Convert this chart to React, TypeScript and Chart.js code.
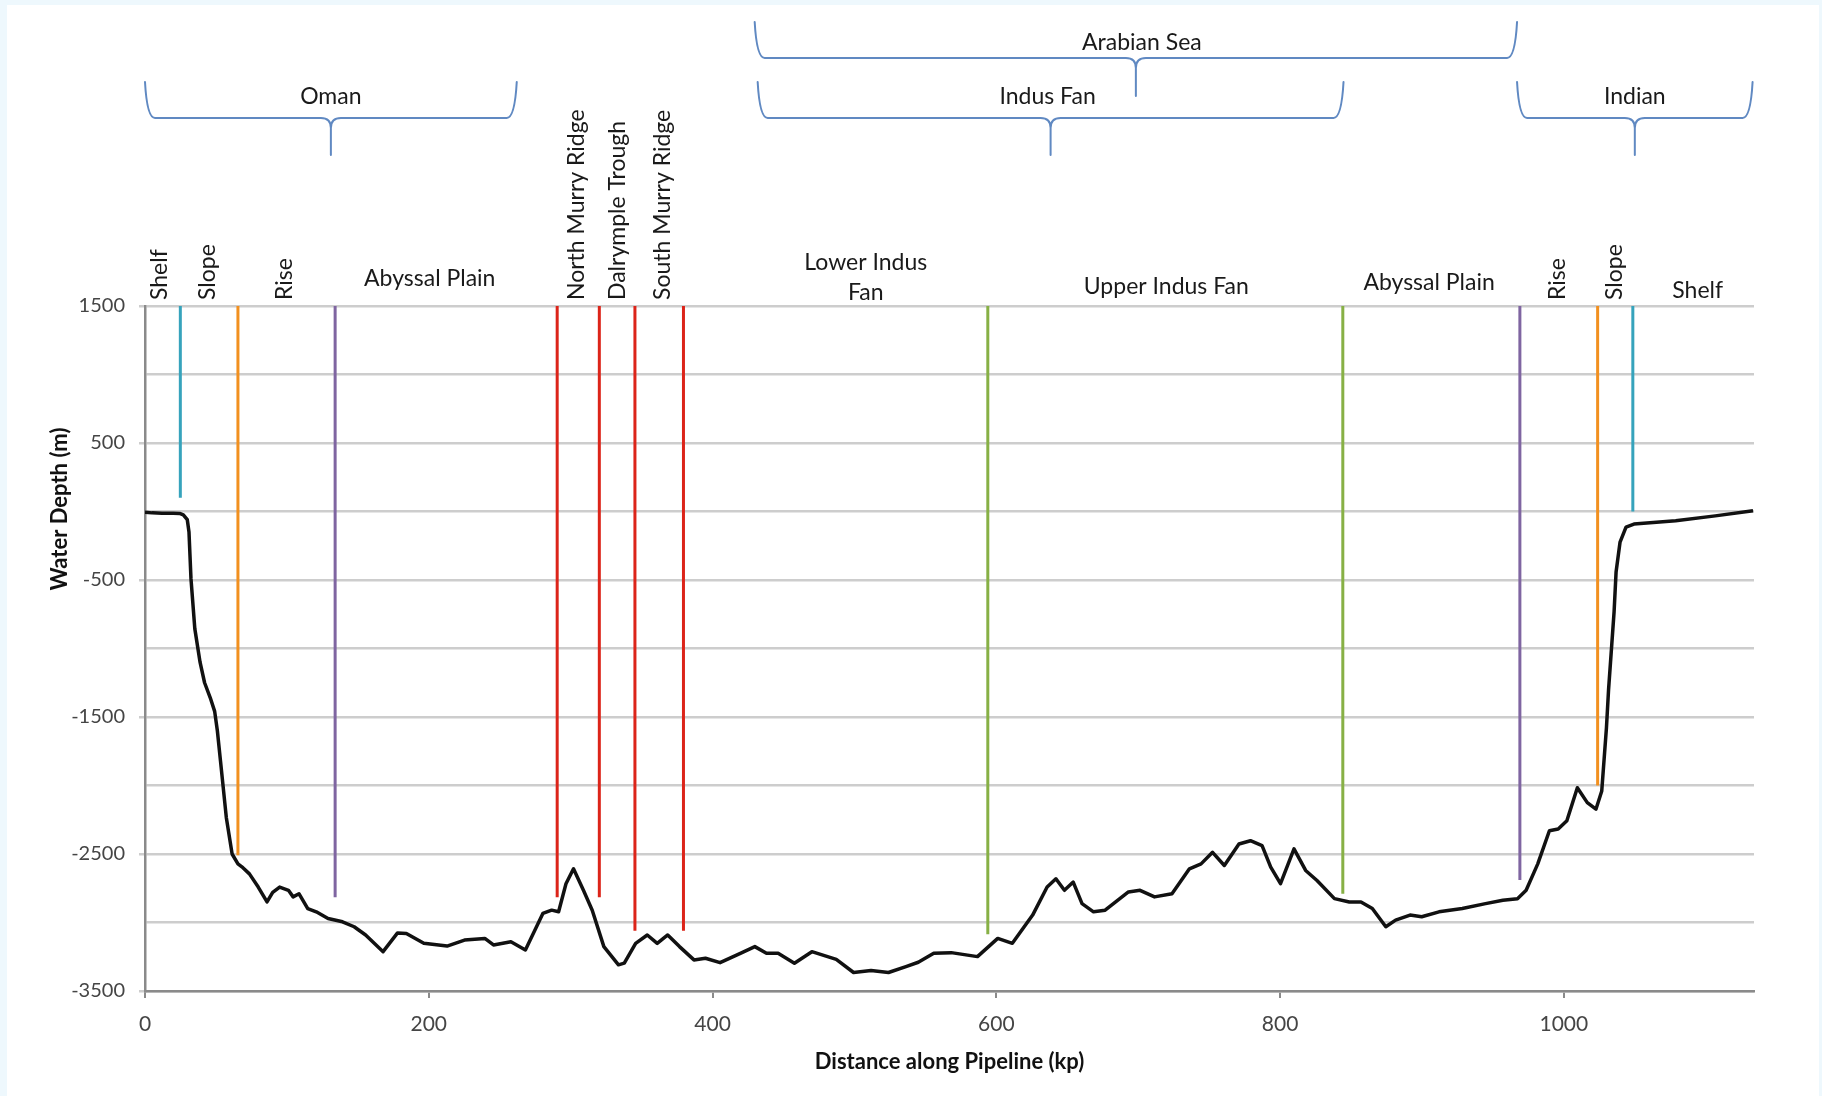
import React, { useEffect, useRef } from 'react';
import { Chart, registerables } from 'chart.js';

Chart.register(...registerables);

// ---------------- DATA ----------------
// Seabed profile: [distance along pipeline (kp), water depth (m)]
const profile: [number, number][] = [
  [0, -5], [5, -10], [12, -12], [20, -12], [24.4, -14], [27, -25], [29.8, -60], [31, -150],
  [32.4, -490], [35.1, -855], [38.8, -1100], [42, -1250], [46, -1360], [49.1, -1459], [51, -1600],
  [53.2, -1820], [57.3, -2233], [61.4, -2500], [65.5, -2572], [69, -2600], [73.6, -2645],
  [79.8, -2741], [86, -2850], [90, -2780], [94.9, -2741], [101.1, -2765], [104.4, -2813],
  [108.5, -2790], [114.7, -2898], [120.7, -2922], [129, -2971], [139.2, -2995], [147.4, -3031],
  [155.5, -3091], [167.8, -3213], [178, -3076], [184.2, -3080], [196.5, -3152], [212.9, -3172],
  [225.2, -3128], [239.5, -3116], [245.6, -3164], [257.9, -3140], [268.1, -3200], [280.4, -2934],
  [286.6, -2910], [291.5, -2922], [296.7, -2717], [302, -2608], [309, -2765], [315.2, -2910],
  [323.4, -3176], [333.7, -3309], [337.8, -3297], [345.8, -3152], [354, -3091], [361, -3152],
  [368.4, -3091], [376.7, -3176], [386.9, -3273], [395, -3261], [405.3, -3293], [419.6, -3225],
  [429.8, -3176], [438, -3225], [446.2, -3225], [457.7, -3297], [470, -3213], [487.2, -3269],
  [499.4, -3365], [511.7, -3350], [524, -3365], [536.3, -3322], [545, -3290], [555.9, -3225],
  [568.2, -3220], [586.7, -3249], [601, -3116], [611.3, -3152], [625.6, -2946], [635.8, -2741],
  [642, -2681], [648, -2765], [654.2, -2705], [660.4, -2862], [668.5, -2922], [676.7, -2910],
  [693.1, -2777], [701.3, -2765], [711.5, -2813], [723.8, -2790], [736.1, -2608], [744.3, -2572],
  [752.4, -2488], [760.7, -2584], [771, -2427], [779.1, -2403], [787.3, -2439], [793.4, -2596],
  [800.3, -2717], [809.8, -2463], [818, -2620], [826, -2693], [838.3, -2826], [848.8, -2850],
  [857, -2850], [865, -2898], [874.5, -3031], [881.4, -2983], [891.6, -2946], [899.8, -2958],
  [912, -2922], [928.4, -2898], [944.8, -2862], [957, -2838], [967.3, -2826], [973.4, -2765],
  [981.6, -2572], [989.8, -2330], [996, -2318], [1002.1, -2258], [1009.5, -2016], [1016.5, -2125],
  [1022.6, -2173], [1026.7, -2040], [1030, -1580], [1031.5, -1300], [1035.4, -731],
  [1036.8, -441], [1039.6, -223], [1043.8, -114], [1049.4, -92], [1078.8, -68], [1106.7, -32],
  [1133.3, 5],
];

// Zone boundary markers (vertical lines from 1500 m down to markerBottom)
const markerKp = [24.9, 65.5, 134, 290.5, 320.2, 345.3, 379.5, 594, 844.2, 969, 1023.8, 1048.6];
const markerBottom = [100, -2510, -2815, -2815, -2815, -3060, -3060, -3085, -2790, -2690, -2000, 0];
const markerKind = ['shelf', 'slope', 'rise', 'ridge', 'ridge', 'ridge', 'ridge', 'fan', 'fan', 'rise', 'slope', 'shelf'];
const markerTop = 1500;

// Zone labels
const verticalLabelText = ['Shelf', 'Slope', 'Rise', 'North Murry Ridge', 'Dalrymple Trough', 'South Murry Ridge', 'Rise', 'Slope'];
const verticalLabelKp = [10.4, 44.3, 98.4, 304, 333, 365, 995.5, 1036];
const horizontalLabelText = ['Abyssal Plain', 'Lower Indus', 'Fan', 'Upper Indus Fan', 'Abyssal Plain', 'Shelf'];
const horizontalLabelKp = [200.7, 508, 508, 719.8, 905, 1094.3];

// Region braces
const braceText = ['Arabian Sea', 'Oman', 'Indus Fan', 'Indian'];
const braceFromKp = [429.7, 0, 431.8, 967];
const braceToKp = [967, 262, 844.7, 1133];
const braceLevel = [0, 1, 1, 1];

// Axes
const xMin = 0;
const xMax = 1134;
const xStep = 200;
const yMin = -3500;
const yMax = 1500;
const yGridStep = 500;
const yLabelStep = 1000;
const xTitle = 'Distance along Pipeline (kp)';
const yTitle = 'Water Depth (m)';

// ---------------- STYLE ----------------
const W = 1822;
const H = 1096;
const FONT = 'Lato, "Open Sans", "DejaVu Sans", sans-serif';
const kindColor: Record<string, string> = {
  shelf: '#36a3bc',
  slope: '#f2901f',
  rise: '#7f65a1',
  ridge: '#dc2419',
  fan: '#87b045',
};
const BRACE_COLOR = '#6089c2';
const TEXT_COLOR = '#1a1a1a';
const TICK_COLOR = '#454545';
const GRID_COLOR = '#cdcdcd';
const AXIS_COLOR = '#8a8a8a';
const LABEL_FONT = `23px ${FONT}`;
const TITLE_FONT = `bold 22px ${FONT}`;

// layout (pixels)
const levelGeom = [
  { tip: 22, line: 58, point: 96, text: 43 },
  { tip: 82, line: 118, point: 155, text: 97 },
];
const braceTextShift = [6, 0, -3, 0];
const horizontalLabelY = [279, 263, 293, 287, 283, 291];

const decorPlugin = {
  id: 'decor',
  beforeDraw(chart: any) {
    const { ctx } = chart;
    ctx.save();
    ctx.fillStyle = '#eef8fd';
    ctx.fillRect(0, 0, W, H);
    ctx.fillStyle = '#ffffff';
    ctx.fillRect(7, 5, W - 10, H - 5);
    ctx.restore();
  },
  afterDraw(chart: any) {
    const { ctx, chartArea } = chart;
    const xs = chart.scales.x;
    ctx.save();

    // braces
    ctx.strokeStyle = BRACE_COLOR;
    ctx.lineWidth = 2;
    ctx.lineCap = 'round';
    braceText.forEach((t, i) => {
      const g = levelGeom[braceLevel[i]];
      const x0 = xs.getPixelForValue(braceFromKp[i]);
      const x1 = xs.getPixelForValue(braceToKp[i]);
      const xm = (x0 + x1) / 2;
      const r = 10;
      const half = g.point - g.line;
      ctx.beginPath();
      ctx.moveTo(x0, g.tip);
      ctx.quadraticCurveTo(x0 + 2, g.line, x0 + r, g.line);
      ctx.lineTo(xm - r, g.line);
      ctx.quadraticCurveTo(xm, g.line, xm, g.line + Math.min(r, half));
      ctx.lineTo(xm, g.point);
      ctx.moveTo(x1, g.tip);
      ctx.quadraticCurveTo(x1 - 2, g.line, x1 - r, g.line);
      ctx.lineTo(xm + r, g.line);
      ctx.quadraticCurveTo(xm, g.line, xm, g.line + Math.min(r, half));
      ctx.stroke();

      ctx.fillStyle = TEXT_COLOR;
      ctx.font = LABEL_FONT;
      ctx.textAlign = 'center';
      ctx.textBaseline = 'middle';
      ctx.fillText(t, xm + braceTextShift[i], g.text);
    });

    // vertical zone labels
    ctx.fillStyle = TEXT_COLOR;
    ctx.font = LABEL_FONT;
    verticalLabelText.forEach((t, i) => {
      const x = xs.getPixelForValue(verticalLabelKp[i]);
      ctx.save();
      ctx.translate(x, chartArea.top - 6);
      ctx.rotate(-Math.PI / 2);
      ctx.textAlign = 'left';
      ctx.textBaseline = 'middle';
      ctx.fillText(t, 0, 0);
      ctx.restore();
    });

    // horizontal zone labels
    ctx.textAlign = 'center';
    ctx.textBaseline = 'middle';
    horizontalLabelText.forEach((t, i) => {
      const x = xs.getPixelForValue(horizontalLabelKp[i]);
      ctx.fillText(t, x, horizontalLabelY[i]);
    });

    // axis titles
    ctx.font = TITLE_FONT;
    ctx.fillStyle = '#111';
    ctx.fillText(xTitle, (chartArea.left + chartArea.right) / 2, 1062);
    ctx.save();
    ctx.translate(60, 509);
    ctx.rotate(-Math.PI / 2);
    ctx.fillText(yTitle, 0, 0);
    ctx.restore();

    ctx.restore();
  },
};

export default function App() {
  const ref = useRef<HTMLCanvasElement | null>(null);

  useEffect(() => {
    if (!ref.current) return;
    const markerSets = markerKp.map((kp, i) => ({
      label: `marker-${i}`,
      data: [
        { x: kp, y: markerTop },
        { x: kp, y: markerBottom[i] },
      ],
      borderColor: kindColor[markerKind[i]],
      borderWidth: 3,
      pointRadius: 0,
      tension: 0,
      order: 2,
    }));

    const chart = new Chart(ref.current, {
      type: 'line',
      data: {
        datasets: [
          {
            label: 'Seabed profile',
            data: profile.map(([x, y]) => ({ x, y })),
            borderColor: '#111111',
            borderWidth: 3.5,
            pointRadius: 0,
            tension: 0,
            borderJoinStyle: 'round',
            order: 1,
          },
          ...markerSets,
        ],
      },
      options: {
        responsive: false,
        maintainAspectRatio: false,
        animation: false,
        events: [],
        layout: { padding: { left: 0, top: 306, right: 68, bottom: 0 } },
        plugins: {
          legend: { display: false },
          tooltip: { enabled: false },
          title: { display: false },
        },
        scales: {
          x: {
            type: 'linear',
            min: xMin,
            max: xMax,
            afterFit: (s: any) => {
              s.height = 105;
            },
            ticks: {
              stepSize: xStep,
              includeBounds: false,
              padding: 14,
              color: TICK_COLOR,
              font: { family: FONT, size: 21 },
              maxRotation: 0,
              callback: (v: any) => String(v),
            },
            grid: {
              drawOnChartArea: false,
              drawTicks: true,
              tickLength: 7,
              color: AXIS_COLOR,
              lineWidth: 2,
            },
            border: { display: true, color: AXIS_COLOR, width: 2.5 },
          },
          y: {
            type: 'linear',
            min: yMin,
            max: yMax,
            afterFit: (s: any) => {
              s.width = 145;
            },
            ticks: {
              stepSize: yGridStep,
              padding: 14,
              color: TICK_COLOR,
              font: { family: FONT, size: 20 },
              callback: (v: any) => ((Number(v) - yMax) % yLabelStep === 0 ? String(v) : ''),
            },
            grid: {
              color: GRID_COLOR,
              lineWidth: 2.5,
              drawTicks: true,
              tickLength: 6,
              tickColor: (c: any) =>
                c.tick && (c.tick.value - yMax) % yLabelStep === 0 ? GRID_COLOR : 'rgba(0,0,0,0)',
            },
            border: { display: true, color: AXIS_COLOR, width: 2.5 },
          },
        },
      },
      plugins: [decorPlugin],
    } as any);
    return () => chart.destroy();
  }, []);

  return (
    <div style={{ position: 'fixed', left: 0, top: 0, width: W, height: H }}>
      <canvas ref={ref} width={W} height={H} style={{ width: W, height: H, display: 'block' }} />
    </div>
  );
}
